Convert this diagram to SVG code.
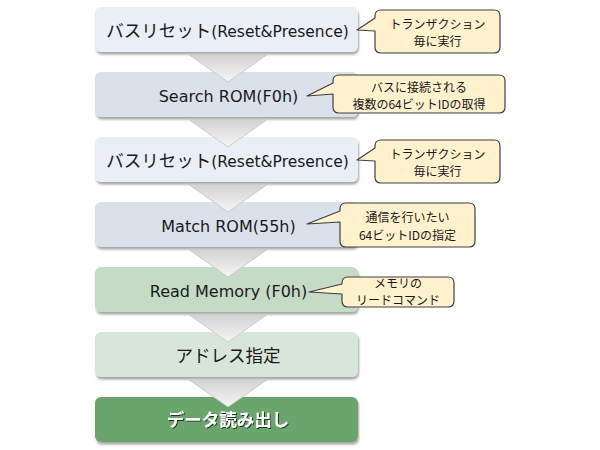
<svg xmlns="http://www.w3.org/2000/svg" width="600" height="450" viewBox="0 0 600 450">
<defs>
<filter id="sh" x="-5%" y="-10%" width="115%" height="140%">
<feDropShadow dx="1" dy="2.5" stdDeviation="1.2" flood-color="#000" flood-opacity="0.35"/>
</filter>
<filter id="tsh" x="-5%" y="-20%" width="115%" height="150%">
<feDropShadow dx="1" dy="1" stdDeviation="0.6" flood-color="#000" flood-opacity="0.7"/>
</filter>
<linearGradient id="chev" x1="0" y1="0" x2="0" y2="1">
<stop offset="0" stop-color="#d2d2d2"/>
<stop offset="1" stop-color="#f6f6f6"/>
</linearGradient>
</defs>
<style>
.box{stroke:none;filter:url(#sh)}
.bt{font-family:"DejaVu Sans","Noto Sans CJK JP",sans-serif;font-size:16px;fill:#1a1a1a;text-anchor:middle}
.jp{font-family:"Noto Sans CJK JP",sans-serif;font-size:17.5px}
.co{fill:#fff2cc;stroke:#3f3f3f;stroke-width:1.2;stroke-linejoin:round}
.ct{font-family:"Noto Sans CJK JP","DejaVu Sans",sans-serif;font-size:12px;fill:#1a1a1a;text-anchor:middle}
.chev{fill:url(#chev);stroke:#c4c4c4;stroke-width:0.8}
</style>
<rect width="600" height="450" fill="#ffffff"/>

<g id="n1"><rect class="box" x="95" y="7" width="263" height="45" rx="6" fill="#e9eef7"/><text class="bt" x="227.5" y="37"><tspan class="jp">バスリセット</tspan><tspan font-size="15.5">(Reset&amp;Presence)</tspan></text></g>
<g id="n2"><rect class="box" x="95" y="72" width="263" height="45" rx="6" fill="#dae1eb"/><text class="bt" x="228.5" y="102">Search ROM(F0h)</text></g>
<g id="n3"><rect class="box" x="95" y="137" width="263" height="45" rx="6" fill="#e9eef7"/><text class="bt" x="227.5" y="167"><tspan class="jp">バスリセット</tspan><tspan font-size="15.5">(Reset&amp;Presence)</tspan></text></g>
<g id="n4"><rect class="box" x="95" y="202" width="263" height="45" rx="6" fill="#dae1eb"/><text class="bt" x="228.5" y="232">Match ROM(55h)</text></g>
<g id="n5"><rect class="box" x="95" y="267" width="263" height="45" rx="6" fill="#c5dbc6"/><text class="bt" x="228.5" y="297">Read Memory (F0h)</text></g>
<g id="n6"><rect class="box" x="95" y="332" width="263" height="45" rx="6" fill="#d8e6d9"/><text class="bt jp" x="228" y="361.5">アドレス指定</text></g>
<g id="n7"><rect class="box" x="95" y="397" width="263" height="45" rx="6" fill="#6aa56c"/><text class="bt jp" x="228" y="426" font-size="17" font-weight="bold" style="fill:#ffffff;filter:url(#tsh)">データ読み出し</text></g>

<g id="connectors">
<path class="chev" d="M188,54 H268 L228,82 Z"/>
<path class="chev" d="M188,119 H268 L228,147 Z"/>
<path class="chev" d="M188,184 H268 L228,212 Z"/>
<path class="chev" d="M188,249 H268 L228,277 Z"/>
<path class="chev" d="M188,314 H268 L228,342 Z"/>
<path class="chev" d="M188,379 H268 L228,407 Z"/>
</g>

<g id="c1"><path class="co" d="M381,10 H494 Q500,10 500,16 V47 Q500,53 494,53 H381 Q375,53 375,47 V31 L357,30 L375,18 V16 Q375,10 381,10 Z"/><text class="ct" x="437.5" y="28.5">トランザクション</text><text class="ct" x="437.5" y="46">毎に実行</text></g>
<g id="c2"><path class="co" d="M339,75 H499 Q505,75 505,81 V107 Q505,113 499,113 H339 Q333,113 333,107 V94 L307,96 L333,83 V81 Q333,75 339,75 Z"/><text class="ct" x="419" y="91.5">バスに接続される</text><text class="ct" x="419" y="109">複数の64ビットIDの取得</text></g>
<g id="c3"><path class="co" d="M381,140 H494 Q500,140 500,146 V177 Q500,183 494,183 H381 Q375,183 375,177 V161 L357,160 L375,148 V146 Q375,140 381,140 Z"/><text class="ct" x="437.5" y="158.5">トランザクション</text><text class="ct" x="437.5" y="176">毎に実行</text></g>
<g id="c4"><path class="co" d="M346,203 H469 Q475,203 475,209 V241 Q475,247 469,247 H346 Q340,247 340,241 V222 L307,224 L340,211 V209 Q340,203 346,203 Z"/><text class="ct" x="407.5" y="222">通信を行いたい</text><text class="ct" x="407.5" y="239.5">64ビットIDの指定</text></g>
<g id="c5"><path class="co" d="M348,277 H448 Q454,277 454,283 V301 Q454,307 448,307 H348 Q342,307 342,301 V294 L309,292 L342,284 V283 Q342,277 348,277 Z"/><text class="ct" x="398" y="288" font-size="11.5">メモリの</text><text class="ct" x="398" y="304.7" font-size="11.5">リードコマンド</text></g>
</svg>
